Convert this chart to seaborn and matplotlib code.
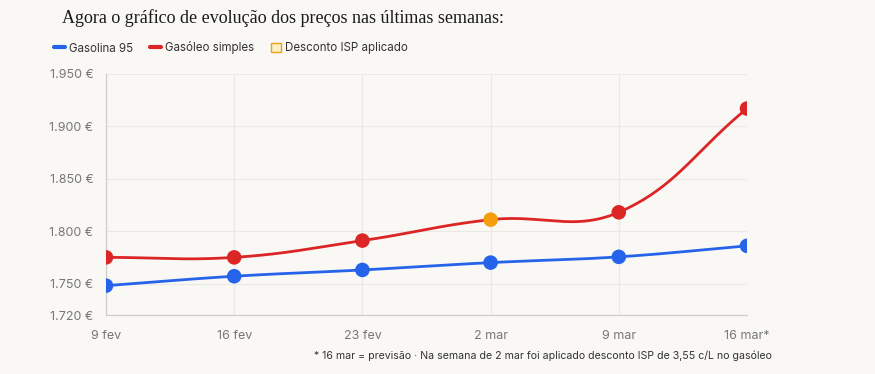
import numpy as np
import pandas as pd
import matplotlib
matplotlib.use("Agg")
import matplotlib.pyplot as plt
from matplotlib.lines import Line2D
from matplotlib.patches import Patch
import seaborn as sns

# data
weeks = ["9 fev", "16 fev", "23 fev", "2 mar", "9 mar", "16 mar*"]
gasolina_95 = [1.748, 1.757, 1.763, 1.770, 1.7755, 1.786]
gasoleo_simples = [1.775, 1.775, 1.791, 1.811, 1.818, 1.917]
isp_week = "2 mar"
y_ticks = [1.720, 1.750, 1.800, 1.850, 1.900, 1.950]

BG = "#f9f8f5"
BLUE = "#2563eb"
RED = "#dc2626"
ORANGE = "#f59e0b"
GRID = "#ebe9e4"
TXT = "#777777"


def chartjs_curve(xs, ys, sx, sy, tension=0.4, n=40):
    """Bezier path like Chart.js splineCurve (distances in pixel scale)."""
    px = np.asarray(xs, float) * sx
    py = np.asarray(ys, float) * sy
    m = len(px)
    cp_prev, cp_next = [], []
    for i in range(m):
        a = max(i - 1, 0)
        c = min(i + 1, m - 1)
        d01 = np.hypot(px[i] - px[a], py[i] - py[a])
        d12 = np.hypot(px[c] - px[i], py[c] - py[i])
        tot = d01 + d12
        s01 = d01 / tot if tot else 0
        s12 = d12 / tot if tot else 0
        fa, fb = tension * s01, tension * s12
        dx, dy = px[c] - px[a], py[c] - py[a]
        cp_prev.append((px[i] - fa * dx, py[i] - fa * dy))
        cp_next.append((px[i] + fb * dx, py[i] + fb * dy))
    out_x, out_y = [], []
    t = np.linspace(0, 1, n)
    for i in range(m - 1):
        p0 = np.array([px[i], py[i]])
        p1 = np.array(cp_next[i])
        p2 = np.array(cp_prev[i + 1])
        p3 = np.array([px[i + 1], py[i + 1]])
        seg = ((1 - t) ** 3)[:, None] * p0 + (3 * (1 - t) ** 2 * t)[:, None] * p1 \
            + (3 * (1 - t) * t ** 2)[:, None] * p2 + (t ** 3)[:, None] * p3
        out_x.extend(seg[:, 0] / sx)
        out_y.extend(seg[:, 1] / sy)
    return np.array(out_x), np.array(out_y)


sns.set_theme(style="white")
plt.rcParams["font.family"] = ["Inter", "DejaVu Sans"]

fig = plt.figure(figsize=(8.75, 3.74), dpi=100, facecolor=BG)
ax = fig.add_axes([106 / 875, 1 - 315 / 374, (747 - 106) / 875, (315 - 74) / 374])
ax.set_facecolor(BG)

idx = np.arange(len(weeks))
df = pd.DataFrame({"x": np.concatenate([idx, idx]),
                   "preco": gasolina_95 + gasoleo_simples,
                   "serie": ["Gasolina 95"] * len(weeks) + ["Gasóleo simples"] * len(weeks),
                   "semana": weeks * 2})

for serie, color in [("Gasolina 95", BLUE), ("Gasóleo simples", RED)]:
    sub = df[df["serie"] == serie]
    cx, cy = chartjs_curve(sub["x"], sub["preco"], 128, 1045)
    ax.plot(cx, cy, color=color, lw=2, zorder=3, solid_capstyle="round")
    pt_colors = [ORANGE if (serie == "Gasóleo simples" and w == isp_week) else color
                 for w in sub["semana"]]
    sns.scatterplot(data=sub, x="x", y="preco", ax=ax, s=110, c=pt_colors,
                    edgecolor="none", zorder=4, legend=False)

ax.set_xlim(0, len(weeks) - 1)
ax.set_ylim(1.720, 1.950)
ax.set_xticks(idx)
ax.set_xticklabels(weeks)
ax.set_yticks(y_ticks)
ax.set_yticklabels([f"{v:.3f} €" for v in y_ticks])
ax.set_xlabel("")
ax.set_ylabel("")
ax.grid(True, color=GRID, lw=0.9)
ax.set_axisbelow(True)
for side in ["top", "right"]:
    ax.spines[side].set_visible(False)
for side in ["left", "bottom"]:
    ax.spines[side].set_color("#d0cec9")
    ax.spines[side].set_linewidth(0.9)
ax.tick_params(axis="both", colors=GRID, length=6, width=0.9, labelcolor=TXT, labelsize=9, pad=3)
ax.tick_params(axis="x", pad=5)

fig.text(62 / 875, 1 - 18 / 374, "Agora o gráfico de evolução dos preços nas últimas semanas:",
         family=["Liberation Serif", "DejaVu Serif"], fontsize=13, color="#1a1a1a", va="center")

handles = [Line2D([], [], color=BLUE, lw=3),
           Line2D([], [], color=RED, lw=3),
           Patch(facecolor="#fdf1c9", edgecolor=ORANGE, lw=1)]
fig.legend(handles, ["Gasolina 95", "Gasóleo simples", "Desconto ISP aplicado"],
           loc="center left", bbox_to_anchor=(44 / 875, 1 - 48 / 374), ncol=3, frameon=False,
           fontsize=8.3, handlelength=0.9, handleheight=0.9, handletextpad=0.35, columnspacing=1.5,
           labelcolor="#333333")

fig.text(772 / 875, 1 - 356 / 374,
         "* 16 mar = previsão · Na semana de 2 mar foi aplicado desconto ISP de 3,55 c/L no gasóleo",
         ha="right", va="center", fontsize=7.6, color="#333333")

fig.savefig("out.png", dpi=100, facecolor=BG)
